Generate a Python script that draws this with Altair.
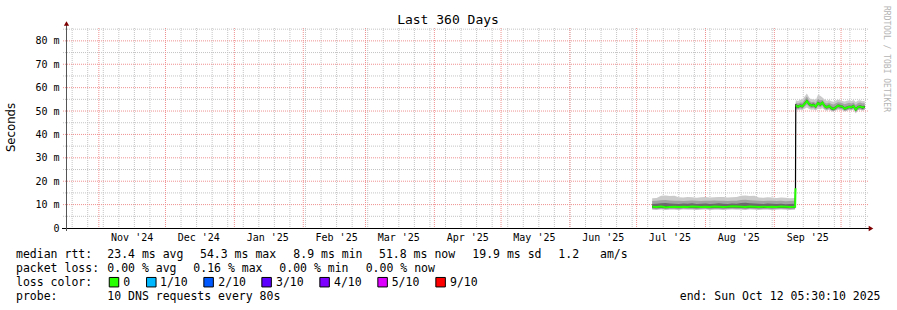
import altair as alt
import pandas as pd

# ---------------- data ----------------
TITLE = "Last 360 Days"
Y_TITLE = "Seconds"
WATERMARK = "RRDTOOL / TOBI OETIKER"

month_starts = ["2024-11-01", "2024-12-01", "2025-01-01", "2025-02-01", "2025-03-01",
                "2025-04-01", "2025-05-01", "2025-06-01", "2025-07-01", "2025-08-01",
                "2025-09-01", "2025-10-01"]
month_label_dates = ["2024-11-16", "2024-12-16", "2025-01-16", "2025-02-16", "2025-03-16",
                     "2025-04-16", "2025-05-16", "2025-06-16", "2025-07-16", "2025-08-16",
                     "2025-09-16"]
month_labels = ["Nov '24", "Dec '24", "Jan '25", "Feb '25", "Mar '25", "Apr '25",
                "May '25", "Jun '25", "Jul '25", "Aug '25", "Sep '25"]

y_major = [10, 20, 30, 40, 50, 60, 70, 80]
y_minor = [5, 15, 25, 35, 45, 55, 65, 75, 85]
y_label_values = [0, 10, 20, 30, 40, 50, 60, 70, 80]
y_labels = ["0", "10 m", "20 m", "30 m", "40 m", "50 m", "60 m", "70 m", "80 m"]

# segment 1 (every 2 days from Jul 8, plus Sep 10), values in ms
s1_outer_hi = [12.7, 12.8, 13.8, 13.9, 13.7, 13.8, 13.1, 13.0, 13.2, 13.1, 12.9, 13.1, 13.2, 13.0, 13.1, 13.3, 13.2,
               13.0, 13.1, 13.2, 13.8, 13.9, 13.7, 13.8, 13.0, 12.9, 13.1, 13.0, 12.8, 13.0, 12.9, 12.7, 12.8]
s1_mid_hi = [11.5, 11.6, 11.9, 12.0, 11.8, 11.7, 11.6, 11.5, 11.7, 11.8, 11.6, 11.5, 11.7, 11.6, 11.8, 11.7, 11.6,
             11.5, 11.7, 11.6, 12.0, 12.1, 11.9, 11.8, 11.6, 11.5, 11.6, 11.7, 11.5, 11.6, 11.4, 11.5, 11.6]
s1_in_hi = [10.3, 10.4, 10.6, 10.7, 10.5, 10.4, 10.3, 10.5, 10.4, 10.6, 10.3, 10.4, 10.5, 10.3, 10.4, 10.6, 10.4,
            10.3, 10.5, 10.4, 10.7, 10.8, 10.6, 10.5, 10.4, 10.3, 10.5, 10.4, 10.3, 10.4, 10.2, 10.3, 10.4]
s1_median = [9.1, 9.0, 9.2, 8.9, 9.0, 9.1, 9.0, 9.1, 9.0, 9.2, 9.1, 9.0, 9.1, 9.0, 9.2, 9.1, 9.0,
             9.1, 9.3, 9.2, 9.1, 9.0, 9.2, 9.1, 9.0, 9.1, 9.0, 9.1, 9.0, 9.2, 9.1, 9.0, 9.1]
s1_in_lo = [8.5, 8.4, 8.6, 8.4, 8.5, 8.5, 8.4, 8.6, 8.5, 8.5, 8.4, 8.5, 8.6, 8.4, 8.5, 8.5, 8.4,
            8.5, 8.6, 8.5, 8.5, 8.4, 8.6, 8.5, 8.4, 8.5, 8.5, 8.4, 8.5, 8.6, 8.5, 8.4, 8.5]
s1_mid_lo = [8.1, 8.0, 8.2, 8.0, 8.1, 8.1, 8.0, 8.2, 8.1, 8.1, 8.0, 8.1, 8.2, 8.0, 8.1, 8.1, 8.0,
             8.1, 8.2, 8.1, 8.1, 8.0, 8.2, 8.1, 8.0, 8.1, 8.1, 8.0, 8.1, 8.2, 8.1, 8.0, 8.1]
s1_outer_lo = [7.8, 7.7, 7.9, 7.7, 7.8, 7.8, 7.7, 7.9, 7.8, 7.8, 7.7, 7.8, 7.9, 7.7, 7.8, 7.8, 7.7,
               7.8, 7.9, 7.8, 7.8, 7.7, 7.9, 7.8, 7.7, 7.8, 7.8, 7.7, 7.8, 7.9, 7.8, 7.7, 7.8]

transition_date = "2025-09-10T12:00:00Z"
transition_median = 17.0

# segment 2 (daily from Sep 10 15:00)
s2_outer_hi = [54.6, 54.3, 54.8, 55.0, 56.2, 57.5, 55.8, 54.9, 55.2, 54.6, 57.0, 56.5, 55.8, 54.9, 54.4, 54.7,
               54.2, 54.0, 54.5, 54.8, 54.6, 54.3, 54.1, 54.4, 54.6, 54.3, 54.7, 53.9, 54.5, 54.6, 54.2, 54.4]
s2_mid_hi = [53.7, 53.2, 53.6, 53.5, 54.8, 56.2, 54.5, 53.8, 54.0, 53.4, 55.3, 54.6, 54.8, 53.7, 53.2, 53.6,
             53.0, 52.8, 53.3, 53.8, 53.6, 53.3, 52.9, 53.2, 53.5, 53.2, 53.7, 52.6, 53.4, 53.6, 53.2, 53.4]
s2_in_hi = [53.1, 52.5, 52.9, 52.7, 53.9, 55.0, 53.6, 53.0, 53.3, 52.6, 54.1, 53.5, 54.2, 52.8, 52.3, 52.8,
            51.9, 51.6, 52.2, 52.9, 52.7, 52.5, 51.7, 52.1, 52.4, 52.3, 52.8, 51.4, 52.3, 52.6, 52.2, 52.4]
s2_median = [52.5, 51.8, 52.3, 52.0, 53.2, 54.3, 53.0, 52.4, 52.6, 51.9, 53.4, 52.8, 53.6, 52.1, 51.6, 52.2,
             51.2, 50.9, 51.5, 52.3, 52.0, 51.9, 51.0, 51.4, 51.8, 51.6, 52.1, 50.6, 51.7, 51.9, 51.5, 51.8]
s2_in_lo = [51.9, 51.2, 51.7, 51.4, 52.6, 53.6, 52.4, 51.8, 52.0, 51.3, 52.8, 52.2, 53.0, 51.5, 51.0, 51.6,
            50.6, 50.3, 50.9, 51.7, 51.4, 51.3, 50.4, 50.8, 51.2, 51.0, 51.5, 49.9, 51.1, 51.3, 50.9, 51.2]
s2_mid_lo = [51.3, 50.8, 51.2, 50.9, 51.9, 52.8, 51.8, 51.2, 51.4, 50.8, 52.1, 51.6, 52.3, 50.9, 50.5, 51.0,
             50.3, 49.9, 50.4, 51.1, 50.9, 50.8, 50.0, 50.3, 50.8, 50.6, 51.0, 49.5, 50.6, 50.8, 50.4, 50.7]
s2_outer_lo = [50.8, 50.3, 50.6, 50.4, 51.0, 51.5, 50.9, 50.5, 50.7, 50.2, 51.0, 50.8, 51.2, 50.4, 50.1, 50.5,
               49.9, 49.7, 50.2, 50.6, 50.4, 50.3, 49.8, 50.0, 50.4, 50.2, 50.6, 48.9, 50.3, 50.5, 50.1, 50.4]

rtt_label = "median rtt:"
rtt_stats = ["23.4 ms avg", "54.3 ms max", "8.9 ms min", "51.8 ms now", "19.9 ms sd", "1.2", "am/s"]
loss_label = "packet loss:"
loss_stats = ["0.00 % avg", "0.16 % max", "0.00 % min", "0.00 % now"]
color_label = "loss color:"
loss_names = ["0", "1/10", "2/10", "3/10", "4/10", "5/10", "9/10"]
loss_colors = ["#26ff00", "#00b8ff", "#0059ff", "#5e00ff", "#7e00ff", "#dd00ff", "#ff0000"]
probe_label = "probe:"
probe_text = "10 DNS requests every 80s"
end_text = "end: Sun Oct 12 05:30:10 2025"

# ---------------- tables ----------------
def iso(ts):
    return pd.Timestamp(ts).strftime("%Y-%m-%dT%H:%M:%SZ")

s1_dates = [iso(d) for d in pd.date_range("2025-07-08", periods=32, freq="2D")] + ["2025-09-10T08:00:00Z"]
s2_dates = [iso(d) for d in pd.date_range("2025-09-10 15:00", periods=32, freq="D")]
week_dates = [iso(d) for d in pd.date_range("2024-10-20", "2025-10-12", freq="7D")]

smoke = pd.DataFrame({
    "d": s1_dates + s2_dates,
    "seg": ["a"] * len(s1_dates) + ["b"] * len(s2_dates),
    "olo": s1_outer_lo + s2_outer_lo, "ohi": s1_outer_hi + s2_outer_hi,
    "mlo": s1_mid_lo + s2_mid_lo, "mhi": s1_mid_hi + s2_mid_hi,
    "ilo": s1_in_lo + s2_in_lo, "ihi": s1_in_hi + s2_in_hi,
})
median = pd.DataFrame({
    "d": s1_dates + [transition_date] + s2_dates,
    "seg": ["a"] * (len(s1_dates) + 1) + ["b"] * len(s2_dates),
    "m": s1_median + [transition_median] + s2_median,
})

OX, OY = 66, 28  # plot-area origin inside the 897x310 canvas

xs = alt.Scale(type="utc", domain=[
    alt.DateTime(year=2024, month=10, date=17, hours=5, minutes=30, seconds=10, utc=True),
    alt.DateTime(year=2025, month=10, date=12, hours=5, minutes=30, seconds=10, utc=True)])
ys = alt.Scale(domain=[0, 85.5], nice=False, zero=False)

MONO = "DejaVu Sans Mono"
one = pd.DataFrame({"k": [0]})


def X(f="d"):
    return alt.X(f + ":T", scale=xs, axis=None)


def Y(f):
    return alt.Y(f + ":Q", scale=ys, axis=None)


def PX():
    return alt.X("px:Q", scale=None, axis=None)


def PY():
    return alt.Y("py:Q", scale=None, axis=None)


GRAY = "#c4c4c4"
RED = "#f09090"

minor_v = alt.Chart(pd.DataFrame({"d": week_dates})).mark_rule(
    color=GRAY, strokeDash=[1, 1], strokeWidth=1).encode(x=X(), y=alt.value(0), y2=alt.value(202))
minor_h = alt.Chart(pd.DataFrame({"v": y_minor})).mark_rule(
    color=GRAY, strokeDash=[1, 1], strokeWidth=1).encode(y=Y("v"), x=alt.value(-3), x2=alt.value(802))
major_v = alt.Chart(pd.DataFrame({"d": month_starts})).mark_rule(
    color=RED, strokeDash=[1, 1], strokeWidth=1).encode(x=X(), y=alt.value(0), y2=alt.value(202))
major_h = alt.Chart(pd.DataFrame({"v": y_major})).mark_rule(
    color=RED, strokeDash=[1, 1], strokeWidth=1).encode(y=Y("v"), x=alt.value(-3), x2=alt.value(802))

area_outer = alt.Chart(smoke).mark_area(color="#cbcbcb").encode(x=X(), y=Y("olo"), y2="ohi:Q", detail="seg:N")
area_mid = alt.Chart(smoke).mark_area(color="#a3a3a3").encode(x=X(), y=Y("mlo"), y2="mhi:Q", detail="seg:N")
area_in = alt.Chart(smoke).mark_area(color="#6a6a6a").encode(x=X(), y=Y("ilo"), y2="ihi:Q", detail="seg:N")

line_black = alt.Chart(median).mark_line(color="black", strokeWidth=1.2).encode(x=X(), y=Y("m"))
line_green = alt.Chart(median).mark_line(color=loss_colors[0], strokeWidth=2).encode(
    x=X(), y=Y("m"), detail="seg:N")

x_axis = alt.Chart(one).mark_rule(color="black", strokeWidth=1).encode(
    x=alt.value(-4), x2=alt.value(804), y=alt.value(200.5))
y_axis = alt.Chart(one).mark_rule(color="#555555", strokeWidth=1).encode(
    x=alt.value(0.5), y=alt.value(-4), y2=alt.value(203))
arrow_up = alt.Chart(one).mark_point(shape="triangle-up", filled=True, size=28, color="#7f0000", opacity=1).encode(
    x=alt.value(0.5), y=alt.value(-4.5))
arrow_right = alt.Chart(one).mark_point(shape="triangle-right", filled=True, size=28, color="#7f0000", opacity=1).encode(
    x=alt.value(805), y=alt.value(200.5))

y_tick_labels = alt.Chart(pd.DataFrame({"v": y_label_values, "t": y_labels})).mark_text(
    font=MONO, fontSize=10, align="right", baseline="middle", color="black", dy=0.5).encode(
    y=Y("v"), x=alt.value(-6.5), text="t:N")
x_tick_labels = alt.Chart(pd.DataFrame({"d": month_label_dates, "t": month_labels})).mark_text(
    font=MONO, fontSize=10, align="center", baseline="alphabetic", color="black").encode(
    x=X(), y=alt.value(240.5 - OY), text="t:N")

title = alt.Chart(pd.DataFrame({"t": [TITLE]})).mark_text(
    font=MONO, fontSize=13, align="center", baseline="alphabetic", color="black").encode(
    x=alt.value(448 - OX), y=alt.value(24 - OY), text="t:N")
y_title = alt.Chart(pd.DataFrame({"t": [Y_TITLE]})).mark_text(
    font="DejaVu Sans", fontSize=11.7, align="center", baseline="middle", angle=270, color="black").encode(
    x=alt.value(11 - OX), y=alt.value(127.5 - OY), text="t:N")
watermark = alt.Chart(pd.DataFrame({"t": [WATERMARK]})).mark_text(
    font=MONO, fontSize=8, align="center", baseline="middle", angle=90, color="#b4b4b4").encode(
    x=alt.value(886 - OX), y=alt.value(59 - OY), text="t:N")

# legend text layout (absolute pixel positions of each piece)
leg_texts = ([rtt_label] + rtt_stats + [loss_label] + loss_stats + [color_label] + loss_names
             + [probe_label, probe_text])
leg_x = ([16, 107.3, 200, 293.3, 379, 472.3, 558.3, 600]
         + [16, 107.3, 193.3, 279.3, 365.7]
         + [16, 123.3, 160, 218.3, 276, 334, 391.7, 450]
         + [16, 107.3])
leg_y = [257.8] * 8 + [271.8] * 5 + [285.8] * 8 + [299.8] * 2
legend_df = pd.DataFrame({"t": leg_texts, "px": [v - OX for v in leg_x], "py": [v - OY for v in leg_y]})
legend_text = alt.Chart(legend_df).mark_text(
    font=MONO, fontSize=11.5, align="left", baseline="alphabetic", color="black").encode(
    x=PX(), y=PY(), text="t:N")
end_label = alt.Chart(pd.DataFrame({"t": [end_text]})).mark_text(
    font=MONO, fontSize=11.5, align="right", baseline="alphabetic", color="black").encode(
    x=alt.value(880.5 - OX), y=alt.value(299.8 - OY), text="t:N")

box_x = [114, 151.3, 208.6, 266.6, 324.6, 382.6, 440.6]
boxes_df = pd.DataFrame({"name": loss_names, "c": loss_colors,
                         "px": [v - OX for v in box_x], "py": [282.2 - OY] * len(box_x)})
boxes = alt.Chart(boxes_df).mark_square(size=90, stroke="black", strokeWidth=1, opacity=1).encode(
    x=PX(), y=PY(), fill=alt.Fill("c:N", scale=None, legend=None))

chart = alt.layer(
    minor_v, minor_h, major_v, major_h,
    area_outer, area_mid, area_in, line_black, line_green,
    x_axis, y_axis, arrow_up, arrow_right,
    y_tick_labels, x_tick_labels, title, y_title, watermark,
    legend_text, end_label, boxes,
).resolve_scale(x="independent", y="independent").properties(
    width=800, height=200,
    autosize=alt.AutoSizeParams(type="none"),
    padding={"left": OX, "top": OY, "right": 897 - OX - 800, "bottom": 310 - OY - 200},
    background="white",
).configure_view(stroke=None)

chart.save("out.html", embed_options={"renderer": "svg", "actions": False})
